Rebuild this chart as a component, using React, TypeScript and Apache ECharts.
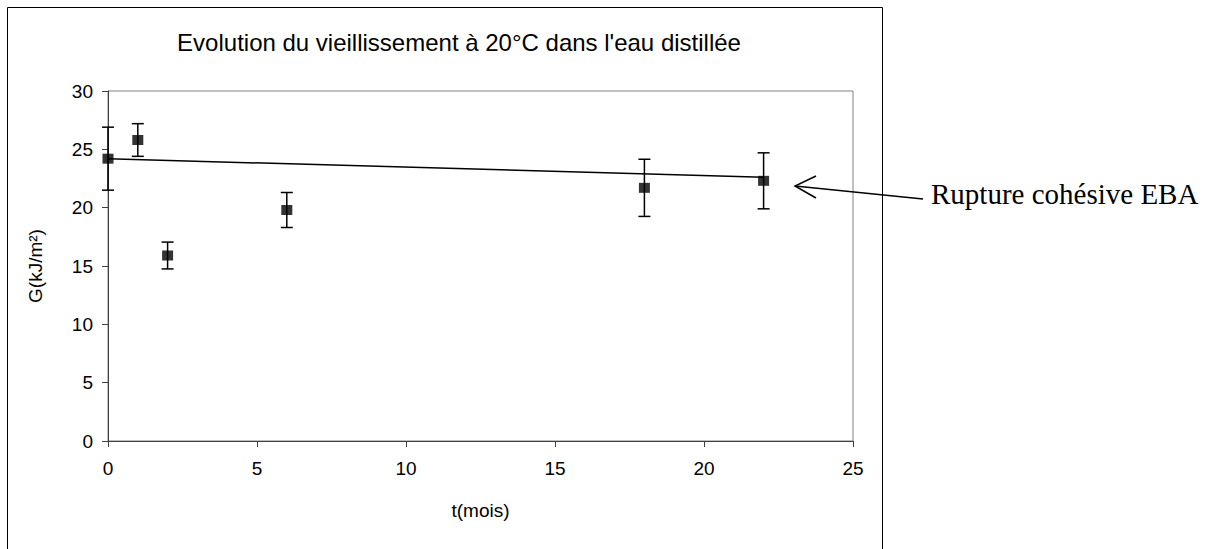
import React, { useEffect, useRef } from "react";
import * as echarts from "echarts";

const months = [0, 1, 2, 6, 18, 22];
const gValues = [24.2, 25.8, 15.9, 19.8, 21.7, 22.3];
const gErrors = [2.7, 1.4, 1.15, 1.5, 2.45, 2.4];
const trendX = [0, 22];
const trendY = [24.2, 22.6];
const titleText = "Evolution du vieillissement à 20°C dans l'eau distillée";
const xName = "t(mois)";
const yName = "G(kJ/m²)";
const annotation = "Rupture cohésive EBA";

export default function App() {
  const ref = useRef<HTMLDivElement>(null);
  useEffect(() => {
    if (!ref.current) return;
    const chart = echarts.init(ref.current, undefined, { renderer: "svg" });
    const pts = months.map((m, i) => [m, gValues[i]]);
    const errData = months.map((m, i) => [m, gValues[i] - gErrors[i], gValues[i] + gErrors[i]]);
    chart.setOption({
      animation: false,
      backgroundColor: "#ffffff",
      textStyle: { fontFamily: "Liberation Sans, Arial, sans-serif" },
      title: {
        text: titleText,
        left: 454,
        top: 25,
        textAlign: "center",
        textStyle: { fontSize: 24, fontWeight: "normal", color: "#000", fontFamily: "Liberation Sans, Arial, sans-serif" },
      },
      grid: {
        left: 108,
        top: 91,
        right: 1217 - 853,
        bottom: 549 - 441,
        show: true,
        borderColor: "#808080",
        borderWidth: 1,
        containLabel: false,
      },
      xAxis: {
        type: "value",
        min: 0,
        max: 25,
        interval: 5,
        name: xName,
        nameLocation: "middle",
        nameGap: 60,
        nameTextStyle: { fontSize: 19, color: "#000" },
        axisLine: { show: true, onZero: false, lineStyle: { color: "#404040", width: 1 } },
        axisTick: { show: true, inside: false, length: 6, lineStyle: { color: "#404040" } },
        axisLabel: { fontSize: 19, color: "#000", margin: 18 },
        splitLine: { show: false },
      },
      yAxis: {
        type: "value",
        min: 0,
        max: 30,
        interval: 5,
        name: yName,
        nameLocation: "middle",
        nameRotate: 90,
        nameGap: 63,
        nameTextStyle: { fontSize: 19, color: "#000" },
        axisLine: { show: true, onZero: false, lineStyle: { color: "#404040", width: 1 } },
        axisTick: { show: true, inside: false, length: 6, lineStyle: { color: "#404040" } },
        axisLabel: { fontSize: 19, color: "#000", margin: 15 },
        splitLine: { show: false },
      },
      series: [
        {
          type: "line",
          data: trendX.map((x, i) => [x, trendY[i]]),
          showSymbol: false,
          symbol: "none",
          lineStyle: { color: "#000", width: 1.5 },
          z: 2,
        },
        {
          type: "custom",
          data: errData,
          renderItem: (params: any, api: any) => {
            const x = api.value(0);
            const lo = api.coord([x, api.value(1)]);
            const hi = api.coord([x, api.value(2)]);
            const cap = 6;
            const style = { stroke: "#000", lineWidth: 1.5 };
            return {
              type: "group",
              children: [
                { type: "line", shape: { x1: lo[0], y1: lo[1], x2: hi[0], y2: hi[1] }, style },
                { type: "line", shape: { x1: lo[0] - cap, y1: lo[1], x2: lo[0] + cap, y2: lo[1] }, style },
                { type: "line", shape: { x1: hi[0] - cap, y1: hi[1], x2: hi[0] + cap, y2: hi[1] }, style },
              ],
            };
          },
          z: 3,
        },
        {
          type: "scatter",
          data: pts,
          symbol: "rect",
          symbolSize: [11, 10],
          itemStyle: { color: "#000" },
          z: 4,
        },
      ],
      graphic: [
        {
          type: "rect",
          shape: { x: 7.5, y: 7.5, width: 875, height: 620 },
          style: { fill: "none", stroke: "#000", lineWidth: 1 },
          silent: true,
          z: 0,
        },
        {
          type: "line",
          shape: { x1: 923, y1: 199, x2: 795, y2: 186 },
          style: { stroke: "#000", lineWidth: 1.5 },
        },
        {
          type: "polyline",
          shape: { points: [[816, 176], [795, 186], [816, 198]] },
          style: { stroke: "#000", lineWidth: 1.5, fill: "none" },
        },
        {
          type: "text",
          x: 931,
          y: 194,
          style: {
            text: annotation,
            fontSize: 29,
            fontFamily: "Liberation Serif, Times New Roman, serif",
            fill: "#000",
            textVerticalAlign: "middle",
            verticalAlign: "middle",
          },
        },
      ],
    });
    return () => chart.dispose();
  }, []);
  return (
    <div
      ref={ref}
      style={{ position: "fixed", left: 0, top: 0, width: 1217, height: 549, background: "#fff" }}
    />
  );
}
